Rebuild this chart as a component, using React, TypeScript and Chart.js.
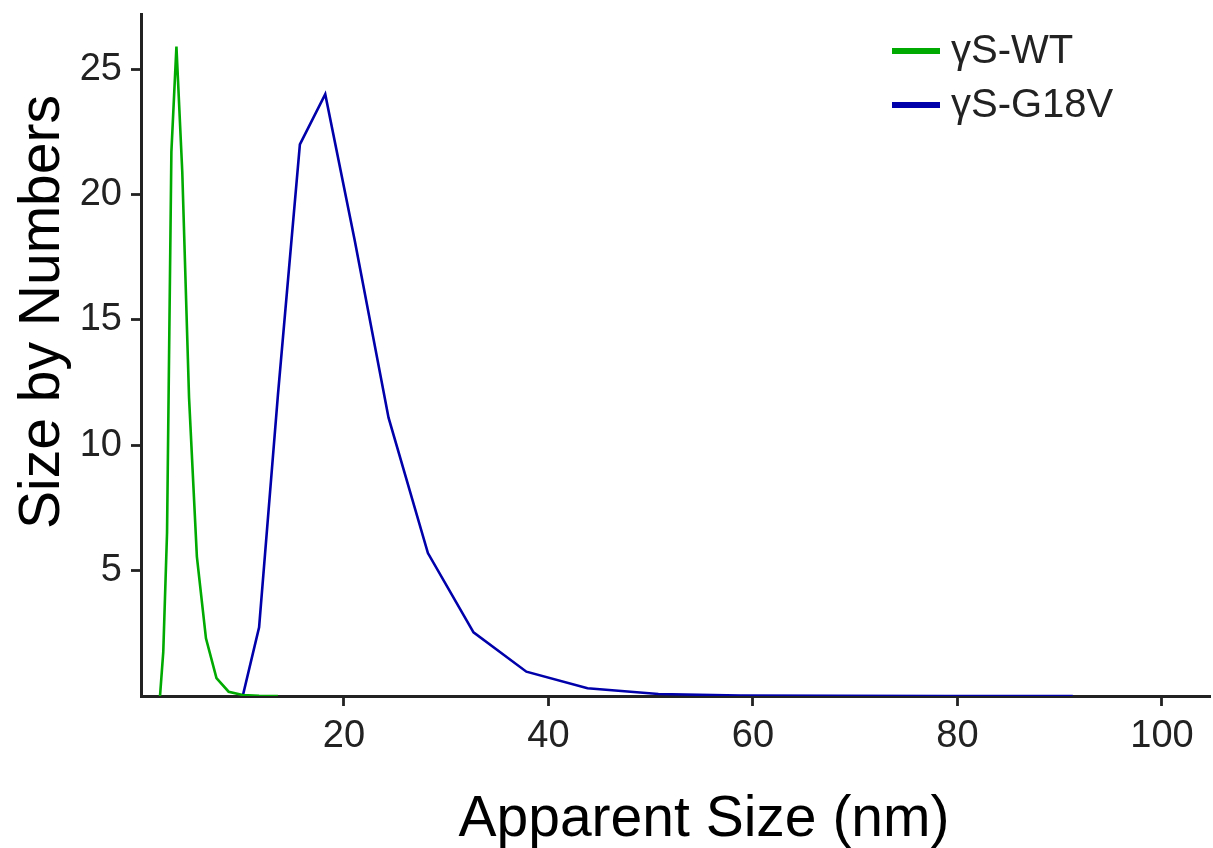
import React, { useEffect, useRef } from "react";
import { Chart, registerables } from "chart.js";

Chart.register(...registerables);

// Size bins (nm) and number distributions
const wtSizes = [2.01, 2.328, 2.696, 3.122, 3.615, 4.187, 4.849, 5.615, 6.503, 7.531, 8.721, 10.1, 11.7, 13.54];
const wtValues = [0, 1.76, 6.5, 21.7, 25.9, 20.9, 11.9, 5.56, 2.3, 0.71, 0.17, 0.04, 0.01, 0];

const g18vSizes = [10.1, 11.7, 13.54, 15.69, 18.17, 21.04, 24.36, 28.21, 32.67, 37.84, 43.82, 50.75, 58.77, 68.06, 78.82, 91.28];
const g18vValues = [0, 2.74, 12.0, 22.0, 24.0, 18.2, 11.1, 5.7, 2.54, 0.97, 0.31, 0.08, 0.02, 0.01, 0.0, 0];

const seriesLabels = ["\u03B3S-WT", "\u03B3S-G18V"];
const seriesColors = ["#00AA00", "#0000AA"];

const xTicks = [20, 40, 60, 80, 100];
const yTicks = [5, 10, 15, 20, 25];

const xTitle = "Apparent Size (nm)";
const yTitle = "Size by Numbers";

const FONT = "'Liberation Sans', Arial, Helvetica, sans-serif";
const INK = "#222222";

export default function App() {
  const ref = useRef<HTMLCanvasElement | null>(null);

  useEffect(() => {
    const canvas = ref.current;
    if (!canvas) return;

    const overlay = {
      id: "overlay",
      afterDraw(chart: any) {
        const ctx = chart.ctx;
        ctx.save();
        // axis titles
        ctx.fillStyle = "#000000";
        ctx.font = `57px ${FONT}`;
        ctx.textAlign = "center";
        ctx.textBaseline = "alphabetic";
        ctx.fillText(xTitle, 704, 836);
        ctx.translate(59, 312);
        ctx.rotate(-Math.PI / 2);
        ctx.fillText(yTitle, 0, 0);
        ctx.restore();

        // legend
        ctx.save();
        const rows = [51, 105];
        chart.data.datasets.forEach((ds: any, i: number) => {
          const y = rows[i];
          ctx.strokeStyle = ds.borderColor;
          ctx.lineWidth = 6;
          ctx.lineCap = "butt";
          ctx.beginPath();
          ctx.moveTo(892, y);
          ctx.lineTo(940, y);
          ctx.stroke();
          ctx.fillStyle = INK;
          ctx.font = `40px ${FONT}`;
          ctx.textAlign = "left";
          ctx.textBaseline = "alphabetic";
          ctx.fillText(ds.label, 951, y + 12);
        });
        ctx.restore();
      },
    };

    const noPad = (s: any) => {
      s.paddingTop = 0;
      s.paddingBottom = 0;
      s.paddingLeft = 0;
      s.paddingRight = 0;
    };

    const chart = new Chart(canvas, {
      type: "line",
      data: {
        datasets: [
          {
            label: seriesLabels[0],
            data: wtSizes.map((x, i) => ({ x, y: wtValues[i] })),
            borderColor: seriesColors[0],
            backgroundColor: seriesColors[0],
            borderWidth: 2.6,
            pointRadius: 0,
            tension: 0,
          },
          {
            label: seriesLabels[1],
            data: g18vSizes.map((x, i) => ({ x, y: g18vValues[i] })),
            borderColor: seriesColors[1],
            backgroundColor: seriesColors[1],
            borderWidth: 2.6,
            pointRadius: 0,
            tension: 0,
          },
        ],
      },
      options: {
        responsive: false,
        animation: false,
        devicePixelRatio: 1,
        layout: { padding: { left: 0, top: 14, right: 3, bottom: 0 } },
        plugins: {
          legend: { display: false },
          tooltip: { enabled: false },
        },
        scales: {
          x: {
            type: "linear",
            min: 0.15,
            max: 104.7,
            afterBuildTicks: (s: any) => {
              s.ticks = xTicks.map((v) => ({ value: v }));
            },
            afterFit: (s: any) => {
              s.height = 152;
              noPad(s);
            },
            grid: {
              display: true,
              drawOnChartArea: false,
              drawTicks: true,
              tickLength: 10,
              tickWidth: 2.8,
              tickColor: INK,
              color: INK,
            },
            border: { display: true, color: INK, width: 3 },
            ticks: {
              color: INK,
              font: { family: FONT, size: 38 },
              padding: 8,
              maxRotation: 0,
              autoSkip: false,
            },
          },
          y: {
            type: "linear",
            min: 0,
            max: 27.2,
            afterBuildTicks: (s: any) => {
              s.ticks = yTicks.map((v) => ({ value: v }));
            },
            afterFit: (s: any) => {
              s.width = 141;
              noPad(s);
            },
            grid: {
              display: true,
              drawOnChartArea: false,
              drawTicks: true,
              tickLength: 10,
              tickWidth: 2.8,
              tickColor: INK,
              color: INK,
            },
            border: { display: true, color: INK, width: 3 },
            ticks: {
              color: INK,
              font: { family: FONT, size: 38 },
              padding: 9,
              autoSkip: false,
            },
          },
        },
      },
      plugins: [overlay],
    });

    return () => chart.destroy();
  }, []);

  return (
    <div style={{ position: "absolute", left: 0, top: 0, width: 1213, height: 848, background: "#fff" }}>
      <canvas ref={ref} width={1213} height={848} style={{ display: "block", width: 1213, height: 848 }} />
    </div>
  );
}
